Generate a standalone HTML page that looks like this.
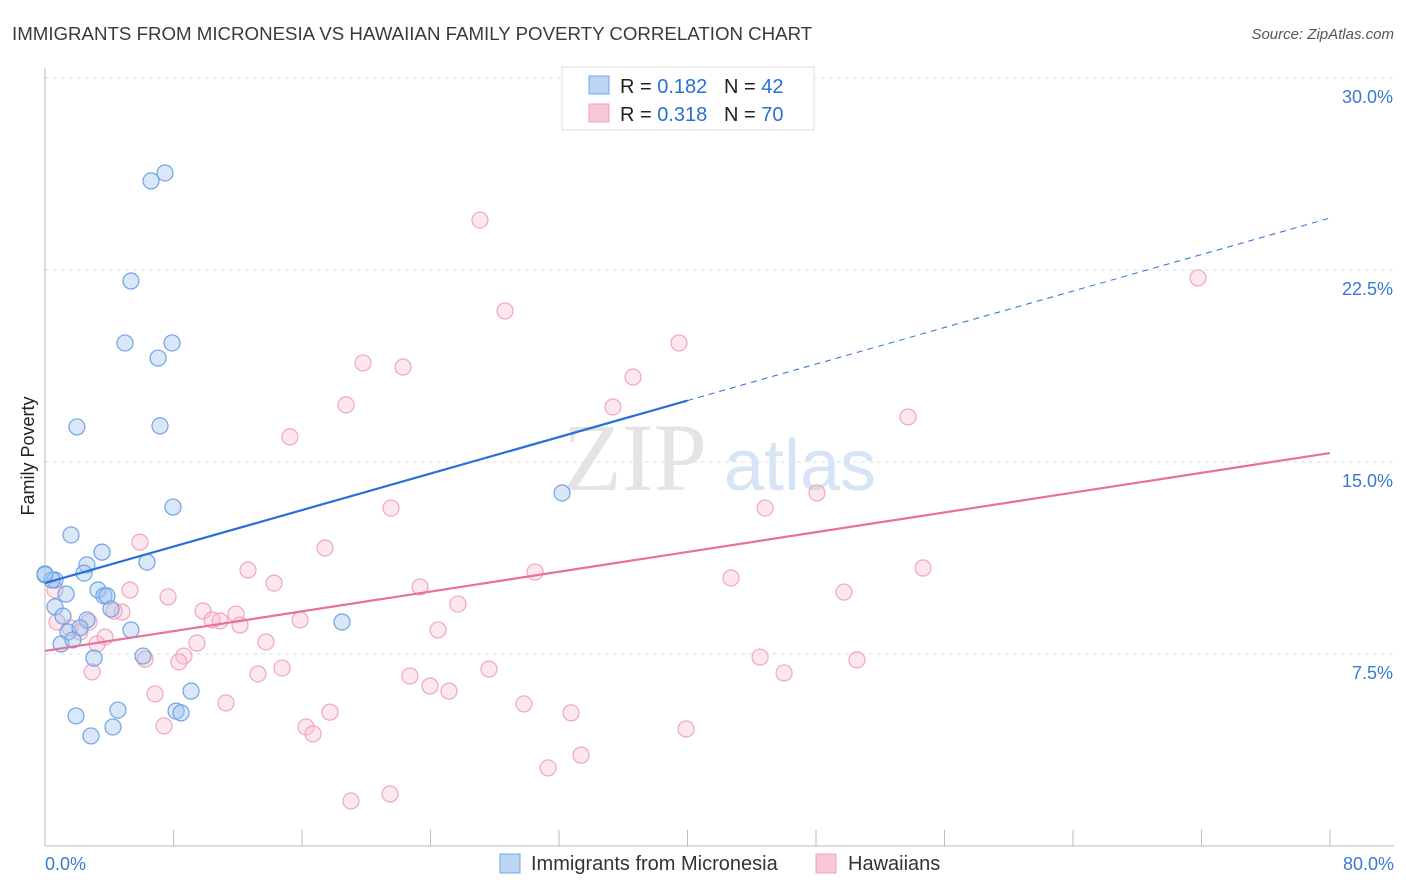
<!DOCTYPE html>
<html><head><meta charset="utf-8">
<style>
body{margin:0;background:#fff;font-family:"Liberation Sans",sans-serif;}
svg{display:block}
</style></head>
<body>
<svg id="chart" width="1406" height="892">
<text x="12" y="40" font-size="18.7" fill="#3a3a3a">IMMIGRANTS FROM MICRONESIA VS HAWAIIAN FAMILY POVERTY CORRELATION CHART</text>
<text x="1394" y="39" font-size="15" fill="#555" text-anchor="end" font-style="italic">Source: ZipAtlas.com</text>
<text x="34" y="456" font-size="18" fill="#222" text-anchor="middle" transform="rotate(-90 34 456)">Family Poverty</text>
<g id="grid"></g>
<g id="wm">
<text x="635" y="490" font-size="96" fill="#e4e4e4" text-anchor="middle" font-family="Liberation Serif,serif">ZIP</text>
<text x="800" y="490" font-size="72" fill="#d6e4f6" text-anchor="middle">atlas</text>
</g>
<g id="ticks"></g>
<g id="pts"></g>
<g id="lines"></g>
<g>
<rect x="562" y="67" width="252" height="63" fill="#fff" stroke="#ddd"/>
<rect x="589" y="76" width="20" height="18" fill="#bcd5f5" stroke="#6fa8e8"/>
<rect x="589" y="104" width="20" height="18" fill="#f9c8d8" stroke="#f0a0b8"/>
<text x="620" y="93" font-size="20" fill="#222">R = <tspan fill="#2a6fd6">0.182</tspan>&#160;&#160;&#160;N = <tspan fill="#2a6fd6">42</tspan></text>
<text x="620" y="121" font-size="20" fill="#222">R = <tspan fill="#2a6fd6">0.318</tspan>&#160;&#160;&#160;N = <tspan fill="#2a6fd6">70</tspan></text>
</g>
<g>
<rect x="500" y="854" width="20" height="19" fill="#bcd5f5" stroke="#6fa8e8"/>
<text x="531" y="870" font-size="20" fill="#333">Immigrants from Micronesia</text>
<rect x="816" y="854" width="20" height="19" fill="#f9c8d8" stroke="#f0a0b8"/>
<text x="848" y="870" font-size="20" fill="#333">Hawaiians</text>
</g>
</svg>
<script>
const yTicks=[7.5,15,22.5,30];
const yTickLabels=["7.5%","15.0%","22.5%","30.0%"];
const xTickVals=[0,8,16,24,32,40,48,56,64,72,80];
const xLabels=["0.0%","80.0%"];
const blueX=[6.60,7.47,5.35,4.98,7.91,7.04,1.99,7.16,7.97,1.62,3.55,6.35,2.61,2.43,0,0.62,3.30,1.31,3.67,3.86,0.62,1.12,4.11,2.61,1.43,2.18,1.00,1.74,5.35,6.10,3.05,18.49,32.19,9.09,4.54,1.93,8.16,8.47,4.23,2.86,0.44,0];
const blueY=[25.98,26.29,22.07,19.65,19.65,19.06,16.37,16.41,13.24,12.15,11.48,11.09,10.98,10.66,10.59,10.39,10.0,9.84,9.77,9.77,9.34,8.98,9.26,8.83,8.36,8.52,7.89,8.05,8.44,7.42,7.34,8.75,13.79,6.05,5.31,5.08,5.27,5.20,4.65,4.30,10.39,10.63];
const pinkX=[27.08,28.64,71.78,39.47,19.80,22.29,36.61,18.74,35.36,53.73,15.25,48.06,21.54,44.83,5.91,17.43,30.51,12.64,54.66,42.71,14.26,23.35,5.29,49.74,0.62,7.66,25.71,4.79,4.30,9.84,11.89,10.40,15.88,10.90,12.14,0.75,2.74,1.56,2.18,24.47,3.74,9.46,13.76,3.24,8.65,6.23,8.34,44.52,50.55,27.64,14.76,13.26,2.93,22.72,46.01,23.97,25.15,6.85,11.27,29.82,17.74,32.75,7.41,16.25,16.69,39.91,33.37,31.32,21.48,19.05];
const pinkY=[24.45,20.90,22.19,19.65,18.87,18.71,18.32,17.23,17.15,16.76,15.98,13.79,13.20,13.20,11.87,11.64,10.70,10.78,10.86,10.47,10.27,10.12,10.0,9.92,10.0,9.73,9.45,9.14,9.18,9.18,9.06,8.83,8.83,8.79,8.63,8.75,8.75,8.52,8.36,8.44,8.16,7.93,7.97,7.89,7.42,7.30,7.19,7.38,7.27,6.91,6.95,6.72,6.80,6.64,6.76,6.25,6.05,5.94,5.59,5.55,5.23,5.20,4.69,4.65,4.38,4.57,3.55,3.05,2.03,1.76];
const blueTrend=[10.27,24.53];
const blueSolidEnd=40;
const pinkTrend=[7.62,15.35];
const NS="http://www.w3.org/2000/svg";
const X=v=>45+v/80*1285;
const Y=v=>846-v/7.5*192;
function mk(t,a,p){const e=document.createElementNS(NS,t);for(const k in a)e.setAttribute(k,a[k]);p.appendChild(e);return e;}
const grid=document.getElementById('grid'),ticks=document.getElementById('ticks'),pts=document.getElementById('pts'),lines=document.getElementById('lines');
yTicks.forEach((t,i)=>{
 const l=mk('line',{x1:45,x2:1394,y1:Y(t),y2:Y(t),stroke:'#ddd','stroke-dasharray':'4 4'},grid);
 
 
 const tx=mk('text',{x:1393,y:Y(t)+25,'font-size':18,fill:'#3a78d6','text-anchor':'end'},ticks);
 tx.textContent=yTickLabels[i];
 
 
});
mk('line',{x1:45,x2:1394,y1:846,y2:846,stroke:'#bbb'},ticks);
mk('line',{x1:45,x2:45,y1:68,y2:846,stroke:'#bbb'},ticks);
xTickVals.forEach(t=>{
 const l=mk('line',{x1:X(t),x2:X(t),y1:830,y2:846,stroke:'#bbb'},ticks);
 
 
});
[[0,'start',45],[80,'end',1394]].forEach((d,i)=>{
 const tx=mk('text',{x:d[2],y:870,'font-size':18,fill:'#3a78d6','text-anchor':d[1]},ticks);
 tx.textContent=xLabels[i];
 
 
});
pinkX.forEach((v,i)=>{
 const c=mk('circle',{cx:X(v),cy:Y(pinkY[i]),r:8,fill:'rgba(248,185,205,0.35)',stroke:'#f0a6bd','stroke-width':1.2},pts);
 
 
});
blueX.forEach((v,i)=>{
 const c=mk('circle',{cx:X(v),cy:Y(blueY[i]),r:8,fill:'rgba(160,196,240,0.4)',stroke:'#6fa3e4','stroke-width':1.2},pts);
 
 
});
const by=x=>blueTrend[0]+(blueTrend[1]-blueTrend[0])*x/80;
let l1=mk('line',{x1:X(0),y1:Y(by(0)),x2:X(blueSolidEnd),y2:Y(by(blueSolidEnd)),stroke:'#2a6fd6','stroke-width':2.2},lines);


let l2=mk('line',{x1:X(blueSolidEnd),y1:Y(by(blueSolidEnd)),x2:X(80),y2:Y(by(80)),stroke:'#2a6fd6','stroke-width':1,'stroke-dasharray':'6 5'},lines);


let l3=mk('line',{x1:X(0),y1:Y(pinkTrend[0]),x2:X(80),y2:Y(pinkTrend[1]),stroke:'#e8709a','stroke-width':2.2},lines);


</script>
</body></html>
